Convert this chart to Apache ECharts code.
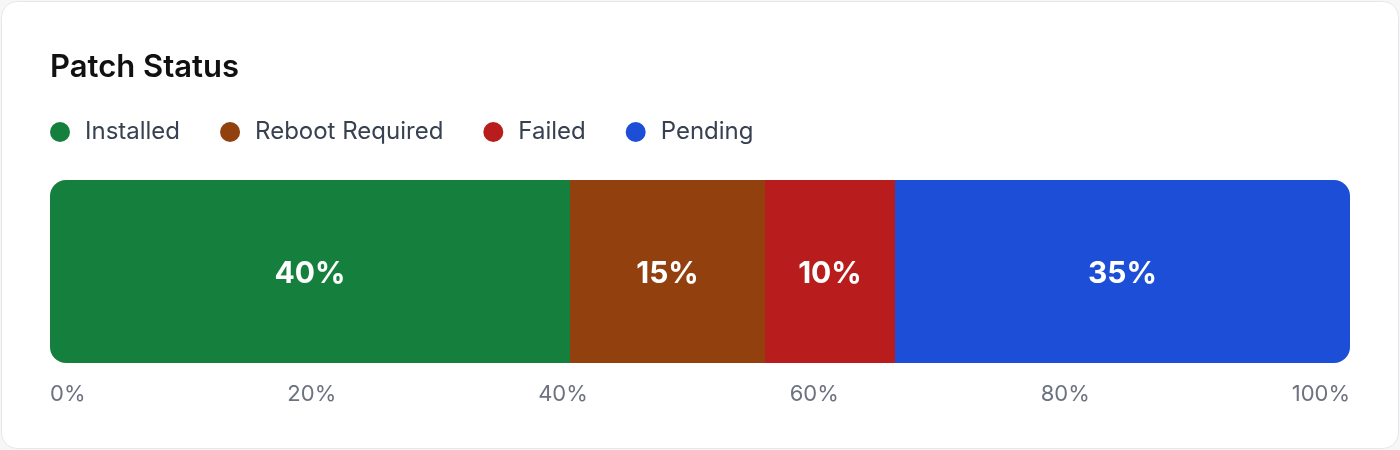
<!DOCTYPE html>
<html>
  <head>
    <meta charset="utf-8" />
    <style>
      html, body { margin: 0; padding: 0; background: #f7f7f8; }
      #card { position: absolute; left: 1px; top: 1px; width: 1396px; height: 446px;
              border: 1px solid #e8e8ea; border-radius: 16px; background: #fff; }
      #chart { position: absolute; left: 0; top: 0; width: 1400px; height: 450px; }
    </style>
    <script src="https://cdn.jsdelivr.net/npm/echarts@6/dist/echarts.min.js"></script>
  </head>
  <body>
    <div id="card"></div>
    <div id="chart"></div>

    <script type="text/javascript">
      var categories = ['Patch Status'];
      var seriesNames = ['Installed', 'Reboot Required', 'Failed', 'Pending'];
      var seriesValues = [40, 15, 10, 35];
      var seriesColors = ['#15803d', '#92400e', '#b91c1c', '#1d4ed8'];
      var tickLabels = ['0%', '20%', '40%', '60%', '80%', '100%'];

      var FONT = 'Inter, "Noto Sans", sans-serif';
      var gridLeft = 50, gridRight = 50, chartWidth = 1400;
      var plotWidth = chartWidth - gridLeft - gridRight;
      var axisFontSize = 22;

      // labels under the bar are spread edge to edge (space-between),
      // so work out where each one sits on the 0..100 scale
      var ctx = document.createElement('canvas').getContext('2d');
      ctx.font = axisFontSize + 'px ' + FONT;
      var widths = tickLabels.map(function (t) { return ctx.measureText(t).width; });
      var total = widths.reduce(function (a, b) { return a + b; }, 0);
      var gap = (plotWidth - total) / (tickLabels.length - 1);
      var labelValues = [];
      var x = 0;
      widths.forEach(function (w) {
        labelValues.push((x + w / 2) / plotWidth * 100);
        x += w + gap;
      });

      var chart = echarts.init(document.getElementById('chart'), null, { renderer: 'canvas' });

      var series = seriesNames.map(function (name, i) {
        var radius = [0, 0, 0, 0];
        if (i === 0) radius = [16, 0, 0, 16];
        if (i === seriesNames.length - 1) radius = [0, 16, 16, 0];
        return {
          name: name,
          type: 'bar',
          stack: 'total',
          barWidth: '100%',
          data: [seriesValues[i]],
          itemStyle: { color: seriesColors[i], borderRadius: radius },
          label: {
            show: true,
            position: 'inside',
            offset: [0, 2],
            formatter: '{c}%',
            color: '#fff',
            fontFamily: FONT,
            fontSize: 30,
            fontWeight: 700
          },
          emphasis: { disabled: true }
        };
      });

      var option = {
        animation: false,
        backgroundColor: 'transparent',
        title: {
          text: 'Patch Status',
          left: 50,
          top: 52,
          padding: 0,
          textStyle: { fontFamily: FONT, fontSize: 31, fontWeight: 600, color: '#111111' }
        },
        legend: {
          data: seriesNames,
          left: 50,
          top: 120,
          padding: 0,
          icon: 'circle',
          itemWidth: 20,
          itemHeight: 20,
          itemGap: 40,
          textStyle: {
            fontFamily: FONT, fontSize: 24, color: '#374151',
            padding: [0, 0, 0, 10]
          }
        },
        grid: { left: gridLeft, right: gridRight, top: 180, bottom: 87 },
        xAxis: {
          type: 'value',
          min: 0,
          max: 100,
          axisLine: { show: false },
          axisTick: { show: false },
          splitLine: { show: false },
          axisLabel: {
            customValues: labelValues,
            margin: 20,
            fontFamily: FONT,
            fontSize: axisFontSize,
            color: '#6b7280',
            formatter: function (v) {
              var best = 0;
              labelValues.forEach(function (lv, i) {
                if (Math.abs(lv - v) < Math.abs(labelValues[best] - v)) best = i;
              });
              return tickLabels[best];
            }
          }
        },
        yAxis: {
          type: 'category',
          data: categories,
          show: false
        },
        series: series
      };

      chart.setOption(option);
    </script>
  </body>
</html>
